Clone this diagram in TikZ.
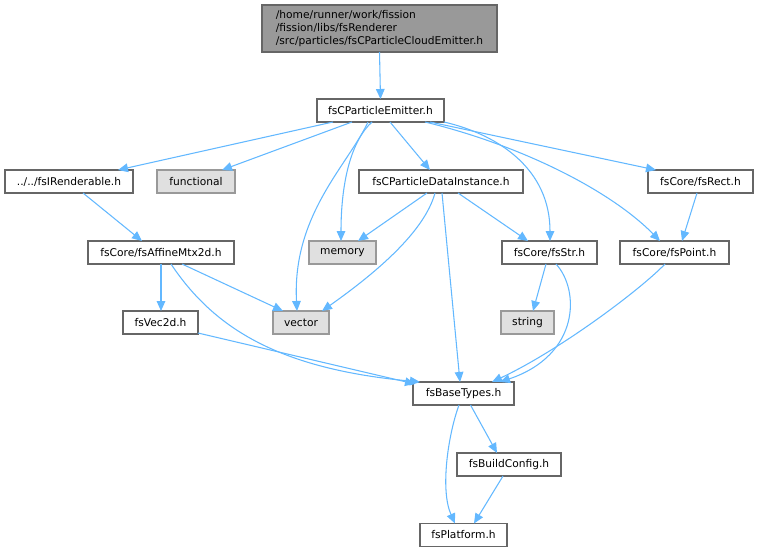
\documentclass[tikz,border=0pt]{standalone}
\usepackage{fontspec}
\setmainfont{DejaVu Sans}
\usetikzlibrary{arrows.meta,calc}
\definecolor{edgeblue}{HTML}{63B8FF}
\definecolor{boxborder}{HTML}{666666}
\definecolor{rootfill}{HTML}{999999}
\definecolor{sysfill}{HTML}{E0E0E0}
\definecolor{sysborder}{HTML}{999999}
\begin{document}
\begin{tikzpicture}[x=0.75pt,y=-0.75pt,
  every node/.style={font=\fontsize{8pt}{9.6pt}\selectfont, inner sep=0pt, outer sep=0pt},
  filebox/.style={draw=boxborder, fill=white, line width=0.9pt, minimum height=17.25pt},
  sysbox/.style={draw=sysborder, fill=sysfill, line width=0.9pt, minimum height=17.25pt},
  rootbox/.style={draw=boxborder, fill=rootfill, line width=0.9pt, align=left, minimum height=35.25pt},
  dep/.style={draw=edgeblue, line width=0.8pt, -{Triangle[length=7.5pt,width=6.5pt]}}
]
\useasboundingbox (0,0) rectangle (759,552);
% nodes
\node[rootbox, minimum width=176.25pt] (root) at (379.5,28.5) {/home/runner/work/fission\\/fission/libs/fsRenderer\\/src/particles/fsCParticleCloudEmitter.h};
\node[filebox, minimum width=95.25pt] (emit) at (380.5,110.5) {fsCParticleEmitter.h};
\node[filebox, minimum width=96pt] (irend) at (69,181.5) {../../fsIRenderable.h};
\node[sysbox, minimum width=58.5pt] (func) at (196,181.5) {functional};
\node[filebox, minimum width=123pt] (pdi) at (441,181.5) {fsCParticleDataInstance.h};
\node[filebox, minimum width=78.75pt] (rect) at (700.5,181.5) {fsCore/fsRect.h};
\node[sysbox, minimum width=50.25pt] (mem) at (342.5,252.5) {memory};
\node[filebox, minimum width=109.5pt] (aff) at (161,252.5) {fsCore/fsAffineMtx2d.h};
\node[filebox, minimum width=71.25pt] (str) at (549.5,252.5) {fsCore/fsStr.h};
\node[filebox, minimum width=81.75pt] (pt) at (674.5,252.5) {fsCore/fsPoint.h};
\node[filebox, minimum width=56.25pt] (vec2) at (160.5,322.5) {fsVec2d.h};
\node[sysbox, minimum width=42pt] (vector) at (301,322.5) {vector};
\node[sysbox, minimum width=39.75pt] (string) at (527.5,322.5) {string};
\node[filebox, minimum width=75.75pt] (base) at (463.5,393.5) {fsBaseTypes.h};
\node[filebox, minimum width=78pt] (build) at (509,464.5) {fsBuildConfig.h};
\node[filebox, minimum width=65.25pt] (plat) at (463.5,535) {fsPlatform.h};
% edges
\draw[dep] (root.south) -- (emit.north);
\draw[dep] ($(emit.south west)+(16,0)$) -- ($(irend.north)+(49,0)$);
\draw[dep] ($(emit.south west)+(35,0)$) -- ($(func.north)+(26,0)$);
\draw[dep] ($(emit.south west)+(51,0)$) .. controls (348,165) and (292,215) .. ($(vector.north)+(-4,0)$);
\draw[dep] ($(emit.south west)+(55,0)$) .. controls (352,140) and (341,180) .. ($(mem.north)+(-1.5,0)$);
\draw[dep] ($(emit.south)+(9.5,0)$) -- ($(pdi.north)+(-11,0)$);
\draw[dep] (emit.south east) .. controls (500,135) and (550,170) .. ($(str.north)+(0.5,0)$);
\draw[dep] ($(emit.south east)+(-19,0)$) .. controls (520,145) and (610,190) .. ($(pt.north)+(-14.5,0)$);
\draw[dep] ($(emit.south east)+(-14,0)$) -- ($(rect.north west)+(8,0)$);
\draw[dep] ($(irend.south)+(14,0)$) -- ($(aff.north)+(-19,0)$);
\draw[dep] ($(rect.south)+(-3.5,0)$) -- ($(pt.north)+(7.5,0)$);
\draw[dep] ($(pdi.south)+(-14,0)$) -- ($(mem.north)+(15.5,0)$);
\draw[dep] ($(pdi.south)+(-6,0)$) .. controls (425,230) and (380,270) .. ($(vector.north)+(21,0)$);
\draw[dep] ($(pdi.south)+(1,0)$) -- ($(base.north)+(-3.5,0)$);
\draw[dep] ($(pdi.south)+(17,0)$) -- ($(str.north)+(-21.5,0)$);
\draw[dep] (aff.south) -- ($(vec2.north)+(0.5,0)$);
\draw[dep] ($(aff.south)+(21,0)$) -- ($(vector.north)+(-18,0)$);
\draw[dep] ($(aff.south)+(10,0)$) .. controls (215,330) and (281,369) .. ($(base.north west)+(7,0)$);
\draw[dep] ($(vec2.south east)+(0,-1)$) -- ($(base.north west)+(2,2)$);
\draw[dep] ($(str.south)+(-3.5,0)$) -- ($(string.north)+(5.5,0)$);
\draw[dep] ($(str.south)+(6.5,0)$) .. controls (580,290) and (580,355) .. ($(base.north)+(36.5,0)$);
\draw[dep] ($(pt.south)+(-9.5,0)$) .. controls (640,290) and (560,350) .. ($(base.north)+(28.5,0)$);
\draw[dep] ($(base.south)+(7,0)$) -- ($(build.north)+(-12,0)$);
\draw[dep] ($(base.south)+(-4.5,0)$) .. controls (448,435) and (440,490) .. ($(plat.north)+(-8.5,0)$);
\draw[dep] ($(build.south)+(-6,0)$) -- ($(plat.north)+(10.5,0)$);
\end{tikzpicture}
\end{document}
